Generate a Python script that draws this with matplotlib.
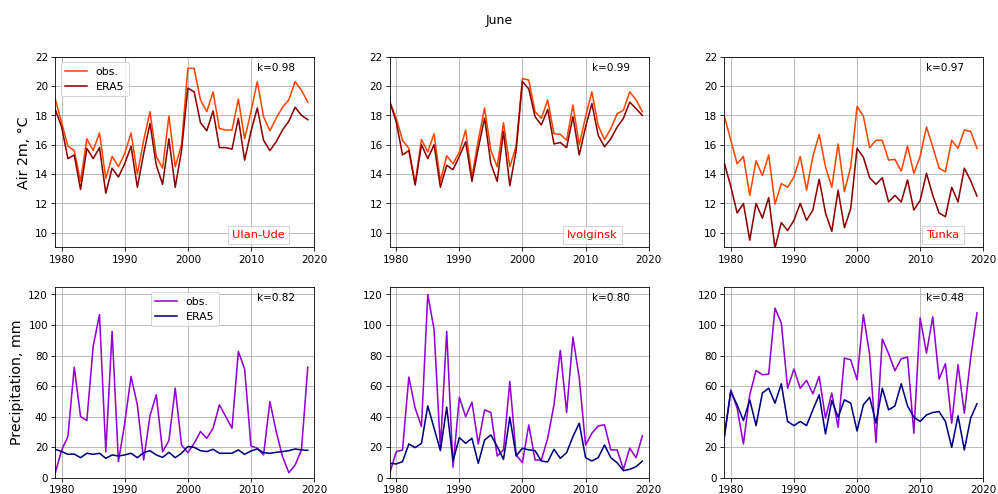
import numpy as np
import matplotlib
matplotlib.use('Agg')
import matplotlib.pyplot as plt

years = np.arange(1979, 2020)

stations = ['Ulan-Ude', 'Ivolginsk', 'Tunka']
station_x = [2007, 2007, 2011]

# June air temperature 2 m, deg C
t_obs_ulan = [19.1, 17.5, 15.9, 15.6, 13.5, 16.4, 15.6, 16.8, 13.7, 15.2,
              14.5, 15.4, 16.8, 14.0, 16.3, 18.25, 15.2, 14.4, 17.95, 14.5,
              16.0, 21.2, 21.2, 19.05, 18.25, 19.6, 17.1, 17.0, 17.0, 19.1,
              16.4, 18.25, 20.3, 17.9, 16.95, 17.8, 18.55, 19.05, 20.3, 19.7, 18.9]
t_era_ulan = [18.4, 17.2, 15.05, 15.3, 12.95, 15.75, 15.05, 15.8, 12.7, 14.4,
              13.8, 14.7, 15.9, 13.1, 15.4, 17.45, 14.6, 13.3, 16.4, 13.1,
              15.6, 19.85, 19.6, 17.5, 16.95, 18.3, 15.8, 15.8, 15.7, 17.8,
              14.95, 16.9, 18.5, 16.3, 15.6, 16.2, 17.0, 17.6, 18.55, 18.0, 17.7]
t_obs_ivol = [18.9, 17.8, 16.3, 15.75, 13.35, 16.35, 15.5, 16.75, 13.5, 15.25,
              14.7, 15.5, 17.0, 13.8, 16.3, 18.5, 15.6, 14.5, 17.5, 14.5,
              15.9, 20.5, 20.4, 18.25, 17.8, 19.05, 16.75, 16.7, 16.3, 18.7,
              16.0, 17.9, 19.6, 17.3, 16.35, 17.1, 18.1, 18.35, 19.6, 19.05, 18.25]
t_era_ivol = [18.9, 17.55, 15.3, 15.6, 13.25, 16.0, 15.05, 16.0, 13.1, 14.6,
              14.3, 15.2, 16.2, 13.5, 15.75, 17.8, 14.7, 13.5, 16.9, 13.2,
              15.6, 20.3, 19.8, 17.9, 17.35, 18.4, 16.05, 16.15, 15.8, 17.9,
              15.3, 17.2, 18.8, 16.65, 15.85, 16.4, 17.2, 17.8, 18.9, 18.45, 18.0]
t_obs_tunka = [17.9, 16.3, 14.7, 15.2, 12.55, 14.9, 13.9, 15.3, 11.95, 13.35,
               13.1, 13.8, 15.2, 12.9, 15.2, 16.7, 14.5, 13.1, 16.05, 12.8,
               14.5, 18.6, 17.95, 15.8, 16.3, 16.3, 14.95, 15.0, 14.2, 15.9,
               14.05, 15.2, 17.2, 15.85, 14.4, 14.15, 16.3, 15.75, 17.0, 16.9, 15.75]
t_era_tunka = [14.7, 13.15, 11.35, 12.0, 9.5, 12.0, 11.0, 12.4, 8.95, 10.7,
               10.15, 10.85, 12.0, 10.85, 11.55, 13.65, 11.35, 10.1, 12.9, 10.35,
               11.65, 15.75, 15.15, 13.75, 13.3, 13.75, 12.1, 12.55, 12.1, 13.6,
               11.55, 12.2, 14.05, 12.55, 11.35, 11.1, 13.1, 12.1, 14.4, 13.55, 12.5]

# June precipitation, mm
p_obs_ulan = [3.3, 18, 27, 72.4, 40, 37.4, 86, 106.8, 17, 95.8,
              10.5, 35.7, 66.3, 47.7, 11.6, 40.5, 54.3, 17, 24.3, 58.6,
              21.4, 16.4, 22.5, 30.2, 25.8, 32.4, 47.7, 40.0, 32.4, 82.7,
              71.1, 20.8, 19.3, 14.9, 49.9, 30.2, 13.8, 3.3, 8.3, 18.2, 72.4]
p_era_ulan = [18.6, 17.1, 15.3, 15.5, 13.1, 16.0, 15.3, 16.0, 12.7, 14.9,
              14.2, 14.9, 16.0, 13.1, 16.4, 17.7, 14.9, 13.3, 16.6, 13.1,
              16.0, 20.4, 19.9, 17.7, 17.1, 18.6, 16.0, 16.0, 16.0, 18.2,
              15.3, 17.5, 18.8, 16.4, 16.0, 16.6, 17.1, 17.7, 18.8, 18.2, 17.9]
p_obs_ivol = [3.3, 17, 18.2, 65.9, 45.5, 33.5, 120, 97, 19.3, 95.8,
              6.8, 52.7, 40, 49.5, 22.1, 44.4, 42.7, 14.2, 18.2, 63,
              14.9, 9.8, 34.6, 11.6, 11.6, 25.8, 47.7, 83.4, 42.7, 92.1,
              65.2, 21.4, 29.1, 33.9, 34.6, 18.2, 18.2, 5.5, 19.3, 13.1, 27.4]
p_era_ivol = [9.4, 9.0, 10.5, 22.1, 19.7, 22.5, 47, 32.4, 17.7, 46.2,
              10.9, 26.3, 22.5, 25.8, 9.4, 24.7, 28.0, 20.4, 12.0, 39.6,
              14.2, 19.3, 18.2, 17.7, 10.9, 10.3, 18.6, 12.7, 16.4, 26.9,
              35.7, 13.1, 10.9, 13.1, 21.4, 13.1, 9.8, 4.6, 5.5, 7.2, 10.9]
p_obs_tunka = [27, 57.5, 45.5, 22.1, 54.3, 70.2, 67.4, 67.8, 111, 101.3,
               58.6, 71.1, 58.6, 63.7, 54.9, 66.3, 39.0, 55.4, 33.0, 78.3,
               77.2, 64.1, 106.8, 80.5, 23, 90.8, 81.2, 70.0, 77.9, 79,
               29.1, 104.6, 81.6, 105.3, 64.6, 74.6, 35.7, 74.0, 42.2, 78.3, 107.9]
p_era_tunka = [28, 56.5, 47.7, 37.4, 51, 34.1, 55.4, 58.6, 48.8, 61.5,
               36.8, 34.1, 36.8, 34.1, 44.4, 54.3, 28.7, 50.5, 39.6, 51,
               48.8, 30.6, 47.7, 52.7, 35.7, 58.6, 44.4, 47, 61.5, 47,
               39.6, 36.8, 41.1, 42.7, 43.3, 36.8, 19.9, 40.5, 18.2, 39, 48.4]

k_temp = ['k=0.98', 'k=0.99', 'k=0.97']
k_prec = ['k=0.82', 'k=0.80', 'k=0.48']

t_obs = [t_obs_ulan, t_obs_ivol, t_obs_tunka]
t_era = [t_era_ulan, t_era_ivol, t_era_tunka]
p_obs = [p_obs_ulan, p_obs_ivol, p_obs_tunka]
p_era = [p_era_ulan, p_era_ivol, p_era_tunka]

fig, axes = plt.subplots(2, 3, figsize=(13.31, 6.59), dpi=75)
fig.subplots_adjust(left=0.0554, right=0.985, top=0.885, bottom=0.033,
                    wspace=0.293, hspace=0.206)
fig.suptitle('June', y=0.972)

for i in range(3):
    # temperature row
    ax = axes[0, i]
    ax.plot(years, t_obs[i], color='orangered', label='obs.')
    ax.plot(years, t_era[i], color='darkred', label='ERA5')
    ax.set_xlim(1979, 2020)
    ax.set_ylim(9, 22)
    ax.set_yticks(np.arange(10, 23, 2))
    ax.set_xticks([1980, 1990, 2000, 2010, 2020])
    ax.grid(True)
    ax.text(0.78, 0.944, k_temp[i], transform=ax.transAxes, ha='left', va='center')
    ax.text(station_x[i], 9.85, stations[i], color='red', fontsize=11,
            ha='left', va='center',
            bbox=dict(facecolor='white', edgecolor='0.8', alpha=0.8))
    if i == 0:
        ax.set_ylabel('Air 2m, °C', fontsize=13.5)
        ax.legend(loc='upper left', fontsize=10.5)

    # precipitation row
    ax = axes[1, i]
    ax.plot(years, p_obs[i], color='darkviolet', label='obs.')
    ax.plot(years, p_era[i], color='navy', label='ERA5')
    ax.set_xlim(1979, 2020)
    ax.set_ylim(0, 125)
    ax.set_yticks(np.arange(0, 121, 20))
    ax.set_xticks([1980, 1990, 2000, 2010, 2020])
    ax.grid(True)
    ax.text(0.78, 0.944, k_prec[i], transform=ax.transAxes, ha='left', va='center')
    if i == 0:
        ax.set_ylabel('Precipitation, mm', fontsize=13.5)
        ax.legend(loc='upper center', fontsize=10.5)

fig.savefig('out.png', dpi=75)
